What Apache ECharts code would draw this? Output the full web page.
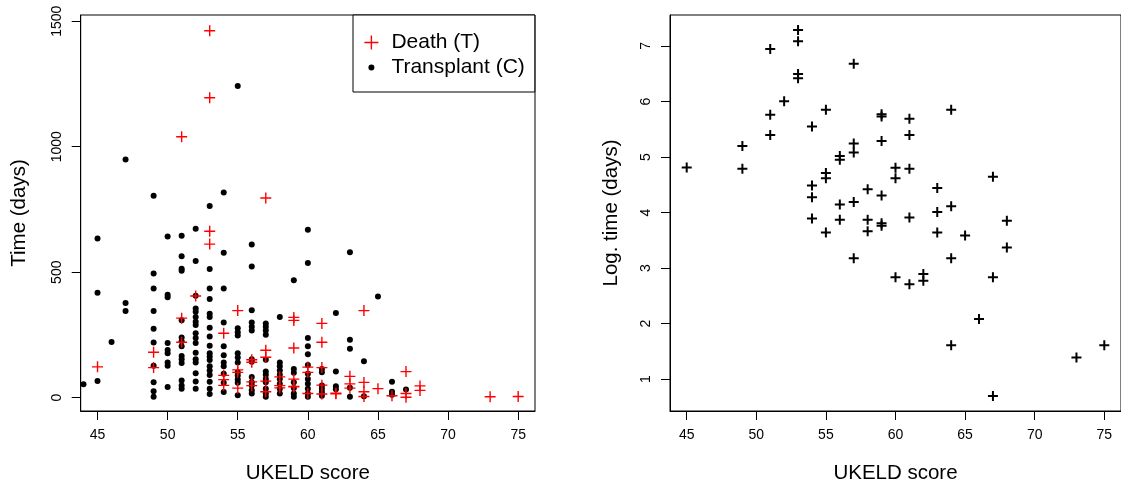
<!DOCTYPE html>
<html><head><meta charset="utf-8">
<script src="https://cdn.jsdelivr.net/npm/echarts@6/dist/echarts.min.js"></script>
<style>html,body{margin:0;padding:0;background:#fff}#c{width:1121px;height:489px}</style>
</head><body><div id="c"></div>
<script>
// Death (T): UKELD score and time in days
const deathScore = [45,49,49,51,51,51,52,53,53,53,53,54,54,54,54,55,55,55,55,56,56,56,56,57,57,57,57,57,58,58,58,59,59,59,59,59,59,60,60,60,61,61,61,61,61,62,62,63,63,63,64,64,64,64,65,66,67,67,67,68,68,73,75];
const deathDays  = [123,181,120,1040,317,221,405,1462,1195,663,612,257,89,72,49,347,111,101,38,151,141,63,48,796,189,161,66,24,83,48,39,320,308,198,74,45,43,122,101,17,296,221,120,50,15,18,16,85,55,38,347,61,24,5,36,8,104,17,2,47,29,4,5];
// Transplant (C): UKELD score columns and times in days in each column
const transScore = [44,45,46,47,49,50,51,52,53,54,55,56,57,58,59,60,61,62,63,64,65,66,67];
const transDays = [
  [54],
  [634,418,67],
  [222],
  [949,377,345],
  [805,495,435,345,275,220,127,62,26,4],
  [642,410,400,218,190,177,140,127,43],
  [645,564,514,506,309,240,225,205,166,153,138,69,49,36],
  [673,545,406,355,342,322,303,290,257,238,218,179,153,140,97,65,36],
  [764,513,435,393,335,322,279,244,207,177,164,150,125,108,90,64,36,15],
  [818,578,435,300,205,169,140,125,95,60,23],
  [1242,277,261,248,177,160,140,101,88,73,60,10],
  [610,523,348,300,283,268,153,143,82,62,49,30,17],
  [296,283,268,251,151,104,91,75,62,36,17,4],
  [322,140,125,108,91,75,56,36,17],
  [468,114,99,62,39,17,4],
  [669,537,238,205,173,130,95,75,56,36,17,4],
  [114,101,49,36,23,8],
  [338,104,46,34],
  [580,231,195,40,4],
  [145,6],
  [403],
  [64,24,12],
  [33]
];
const xTicks = [45,50,55,60,65,70,75];
const yTicksLeft = [0,500,1000,1500];
const yTicksRight = [1,2,3,4,5,6,7];

const deathData = deathScore.map((s,i)=>[s, deathDays[i]]);
const logDeathData = deathScore.map((s,i)=>[s, Math.log(deathDays[i])]);
const transData = [];
transScore.forEach((s,i)=>transDays[i].forEach(d=>transData.push([s,d])));

const FONT = 'Liberation Sans, Arial, sans-serif';
const plusThin = 'path://M4.8,0H6.2V4.8H11V6.2H6.2V11H4.8V6.2H0V4.8H4.8Z';
const plusBold = 'path://M4,0H6V4H10V6H6V10H4V6H0V4H4Z';
const legPlus = 'path://M7.2,0H8.8V7.2H16V8.8H8.8V16H7.2V8.8H0V7.2H7.2Z';
const legDot = 'path://M0,0L0.01,0L0,0.01Z M14,14L13.99,14L14,13.99Z M10,7A3,3 0 1,1 4,7A3,3 0 1,1 10,7Z';
const plain = v => String(v);

function xAxisCfg(grid){
  return {gridIndex:grid, type:'value', min:43.8, max:76.2,
    axisLine:{show:true, onZero:false, lineStyle:{color:'#000', width:1}},
    axisTick:{show:true, inside:false, length:9, customValues:xTicks, lineStyle:{color:'#000', width:1}},
    axisLabel:{customValues:xTicks, formatter:plain, fontSize:14, color:'#000', margin:17, fontFamily:FONT},
    splitLine:{show:false},
    name:'UKELD score', nameLocation:'middle', nameGap:52,
    nameTextStyle:{fontSize:20.5, color:'#000', fontFamily:FONT}};
}
function yAxisCfg(grid, min, max, ticks, name, gap){
  return {gridIndex:grid, type:'value', min:min, max:max,
    axisLine:{show:true, onZero:false, lineStyle:{color:'#000', width:1}},
    axisTick:{show:true, inside:false, length:9, customValues:ticks, lineStyle:{color:'#000', width:1}},
    axisLabel:{customValues:ticks, formatter:plain, fontSize:14, color:'#000', margin:17, rotate:90, fontFamily:FONT},
    splitLine:{show:false},
    name:name, nameLocation:'middle', nameGap:gap, nameRotate:90,
    nameTextStyle:{fontSize:20.5, color:'#000', fontFamily:FONT}};
}

const chart = echarts.init(document.getElementById('c'), null, {renderer:'canvas'});
chart.setOption({
  animation:false,
  backgroundColor:'#fff',
  textStyle:{fontFamily:FONT},
  grid:[
    {left:80.7, top:15, width:454.3, height:404, show:true, borderColor:'#000', borderWidth:1, backgroundColor:'transparent'},
    {left:670, top:15, width:455.3, height:405, show:true, borderColor:'#000', borderWidth:1, backgroundColor:'transparent'}
  ],
  xAxis:[xAxisCfg(0), xAxisCfg(1)],
  yAxis:[
    yAxisCfg(0, -53, 1525, yTicksLeft, 'Time (days)', 51),
    yAxisCfg(1, 0.424, 7.558, yTicksRight, 'Log. time (days)', 48)
  ],
  legend:{
    show:true, orient:'vertical', left:353, top:15,
    padding:[17,10,14,11.4], itemGap:4, itemWidth:30, itemHeight:14,
    borderColor:'#000', borderWidth:1, backgroundColor:'#fff',
    selectedMode:false,
    textStyle:{fontSize:21, color:'#000', fontFamily:FONT},
    data:[
      {name:'Death (T)', icon:legPlus, itemStyle:{color:'#ff0000'}},
      {name:'Transplant (C)', icon:legDot, itemStyle:{color:'#000'}}
    ]
  },
  series:[
    {name:'Transplant (C)', type:'scatter', xAxisIndex:0, yAxisIndex:0, data:transData,
      symbol:'circle', symbolSize:6, itemStyle:{color:'#000', opacity:1}, z:2},
    {name:'Death (T)', type:'scatter', xAxisIndex:0, yAxisIndex:0, data:deathData,
      symbol:plusThin, symbolSize:11, itemStyle:{color:'#ff0000', opacity:1}, z:3},
    {name:'Log death', type:'scatter', xAxisIndex:1, yAxisIndex:1, data:logDeathData,
      symbol:plusBold, symbolSize:10, itemStyle:{color:'#000', opacity:1}, z:3}
  ]
});
</script></body></html>
